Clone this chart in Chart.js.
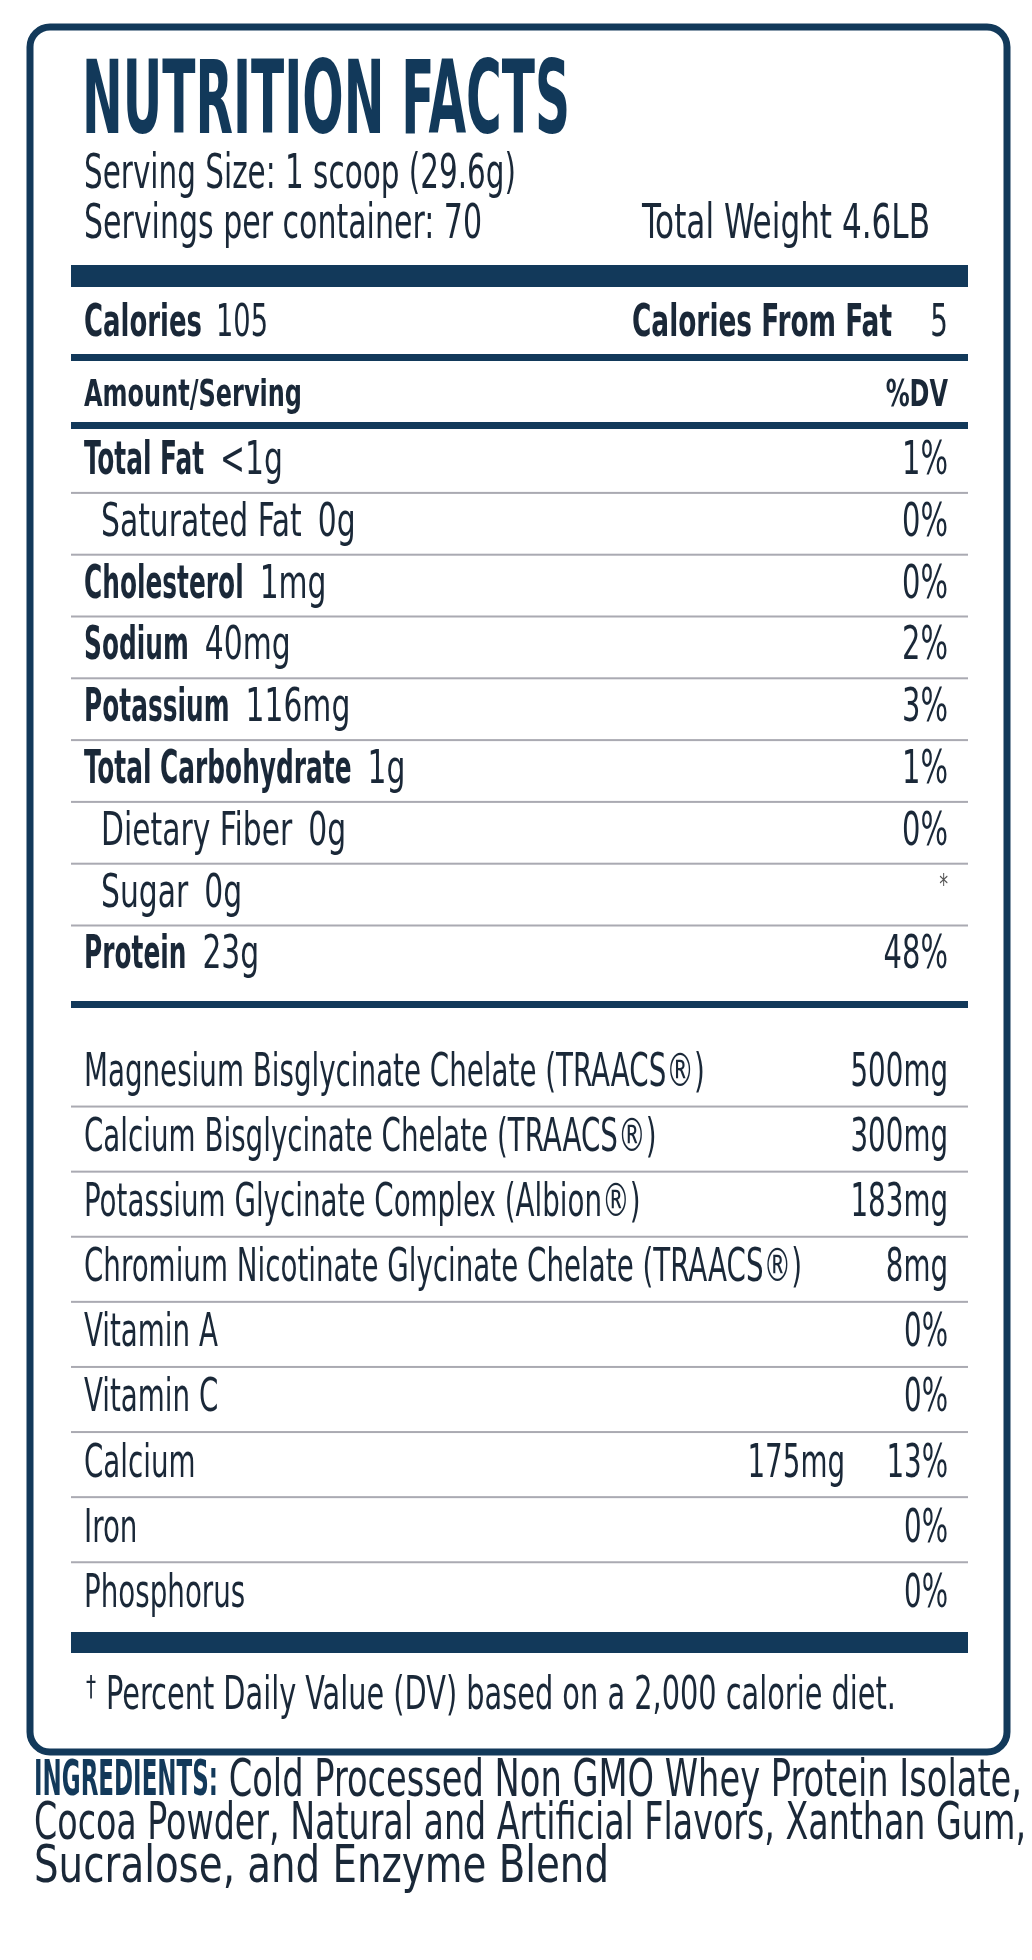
<!DOCTYPE html>
<html>
<head>
<meta charset="utf-8">
<script src="https://cdn.jsdelivr.net/npm/chart.js@4/dist/chart.umd.min.js"></script>
<style>
  html, body { margin: 0; padding: 0; background: #fff; overflow: hidden; }
  #label { display: block; }
</style>
</head>
<body>
<canvas id="label" width="1032" height="1960"></canvas>
<script>
"use strict";

// ── 데이터 ──────────────────────────────────────────────
const TITLE = "NUTRITION FACTS";
const SERVING_SIZE = "Serving Size: 1 scoop (29.6g)";
const SERVINGS = "Servings per container: 70";
const TOTAL_WEIGHT = "Total Weight 4.6LB";
const CALORIES = "105";
const CALORIES_FAT = "5";

const nutrientNames = ["Total Fat", "Saturated Fat", "Cholesterol", "Sodium", "Potassium",
  "Total Carbohydrate", "Dietary Fiber", "Sugar", "Protein"];
const nutrientAmounts = ["<1g", "0g", "1mg", "40mg", "116mg", "1g", "0g", "0g", "23g"];
const nutrientDV = ["1%", "0%", "0%", "2%", "3%", "1%", "0%", "*", "48%"];
const nutrientBold = [true, false, true, true, true, true, false, false, true];

const mineralNames = ["Magnesium Bisglycinate Chelate (TRAACS®)", "Calcium Bisglycinate Chelate (TRAACS®)",
  "Potassium Glycinate Complex (Albion®)", "Chromium Nicotinate Glycinate Chelate (TRAACS®)",
  "Vitamin A", "Vitamin C", "Calcium", "Iron", "Phosphorus"];
const mineralAmounts = ["", "", "", "", "", "", "175mg", "", ""];
const mineralValues = ["500mg", "300mg", "183mg", "8mg", "0%", "0%", "13%", "0%", "0%"];

const FOOTNOTE = "Percent Daily Value (DV) based on a 2,000 calorie diet.";
const INGREDIENT_LINES = [
  ["INGREDIENTS:", " Cold Processed Non GMO Whey Protein Isolate,"],
  ["", "Cocoa Powder, Natural and Artificial Flavors, Xanthan Gum,"],
  ["", "Sucralose, and Enzyme Blend"],
];

// ── 스타일 ──────────────────────────────────────────────
const NAVY = "#12395a";
const INK = "#1a2838";
const RULE = "#aaaab2";
const FONT = '"DejaVu Sans Condensed", "DejaVu Sans", sans-serif';
const L = 84, R = 948;

// 라벨 전체를 캔버스 픽셀 좌표계 스케일 위에 그림
const labelPlugin = {
  id: "label",
  afterDraw(chart) {
    const ctx = chart.ctx;
    const X = (v) => chart.scales.x.getPixelForValue(v);
    const Y = (v) => chart.scales.y.getPixelForValue(v);

    const text = (s, x, y, o = {}) => {
      const size = o.size || 46;
      ctx.save();
      ctx.font = `${o.bold ? "bold " : ""}${size}px ${FONT}`;
      ctx.fillStyle = o.color || INK;
      ctx.textBaseline = "middle";
      ctx.textAlign = o.align || "left";
      let sx = o.sx || 0.7;
      if (o.fit) sx = o.fit / ctx.measureText(s).width;
      ctx.translate(X(x), Y(y));
      ctx.scale(sx, 1);
      ctx.fillText(s, 0, 0);
      const w = ctx.measureText(s).width * sx;
      ctx.restore();
      return w;
    };
    const bar = (y, h, color = NAVY, x0 = 71, x1 = 968) => {
      ctx.fillStyle = color;
      ctx.fillRect(X(x0), Y(y), X(x1) - X(x0), Y(y + h) - Y(y));
    };

    // 테두리
    ctx.save();
    ctx.strokeStyle = NAVY;
    ctx.lineWidth = 7;
    ctx.beginPath();
    ctx.roundRect(X(30), Y(27), X(1007) - X(30), Y(1752) - Y(27), 20);
    ctx.stroke();
    ctx.restore();

    text(TITLE, L - 2, 106, { size: 102, bold: true, color: NAVY, fit: 488 });
    text(SERVING_SIZE, L, 176, { size: 48, fit: 432 });
    text(SERVINGS, L, 226, { size: 48, fit: 398 });
    text(TOTAL_WEIGHT, 930, 226, { size: 48, align: "right", fit: 288 });

    bar(265, 22);
    const cw = text("Calories", L, 325, { size: 44, bold: true, fit: 118 });
    text(CALORIES, L + cw + 14, 325, { size: 44, fit: 52 });
    text(CALORIES_FAT, R, 325, { size: 44, align: "right", sx: 0.7 });
    text("Calories From Fat", 892, 325, { size: 44, bold: true, align: "right", fit: 260 });
    bar(354, 7);
    text("Amount/Serving", L, 396, { size: 38, bold: true, fit: 218 });
    text("%DV", R, 396, { size: 38, bold: true, align: "right", sx: 0.7 });
    bar(422, 7);

    // 영양소 행
    const top1 = 462, pitch1 = 61.8;
    nutrientNames.forEach((n, i) => {
      const y = top1 + i * pitch1;
      const bold = nutrientBold[i];
      const indent = bold ? 0 : 17;
      const w = text(n, L + indent, y, { size: 46, bold, sx: bold ? 0.6 : 0.72 });
      text(nutrientAmounts[i], L + indent + w + 16, y, { size: 46, sx: 0.72 });
      if (nutrientDV[i] === "*") text("*", R, y - 8, { size: 28, align: "right", color: "#555" });
      else text(nutrientDV[i], R, y, { size: 46, align: "right", sx: 0.7 });
      if (i < nutrientNames.length - 1) bar(y + pitch1 / 2 - 1, 2, RULE);
    });
    bar(1001, 7);

    // 미네랄 행
    const top2 = 1074, pitch2 = 65.1;
    mineralNames.forEach((n, i) => {
      const y = top2 + i * pitch2;
      text(n, L, y, { size: 46, sx: 0.67 });
      if (mineralAmounts[i]) text(mineralAmounts[i], 845, y, { size: 46, align: "right", sx: 0.67 });
      text(mineralValues[i], R, y, { size: 46, align: "right", sx: 0.67 });
      if (i < mineralNames.length - 1) bar(y + pitch2 / 2 - 1, 2, RULE);
    });
    bar(1632, 21);

    text("†", 86, 1689, { size: 28, sx: 0.8 });
    text(FOOTNOTE, 106, 1697, { size: 46, fit: 790 });

    // 원료
    INGREDIENT_LINES.forEach(([b, r], i) => {
      const y = 1782 + i * 43;
      let x = 34;
      if (b) x += text(b, x, y, { size: 50, bold: true, color: NAVY, fit: 184 });
      text(r, x, y, { size: 52, fit: [804, 992, 575][i] });
    });
  },
};

new Chart(document.getElementById("label"), {
  type: "scatter",
  data: { datasets: [{ data: [] }] },
  options: {
    responsive: false,
    animation: false,
    devicePixelRatio: 1,
    layout: { padding: 0 },
    plugins: { legend: { display: false }, tooltip: { enabled: false } },
    scales: {
      x: { type: "linear", min: 0, max: 1032, display: false },
      y: { type: "linear", min: 0, max: 1960, reverse: true, display: false },
    },
  },
  plugins: [labelPlugin],
});
</script>
</body>
</html>
